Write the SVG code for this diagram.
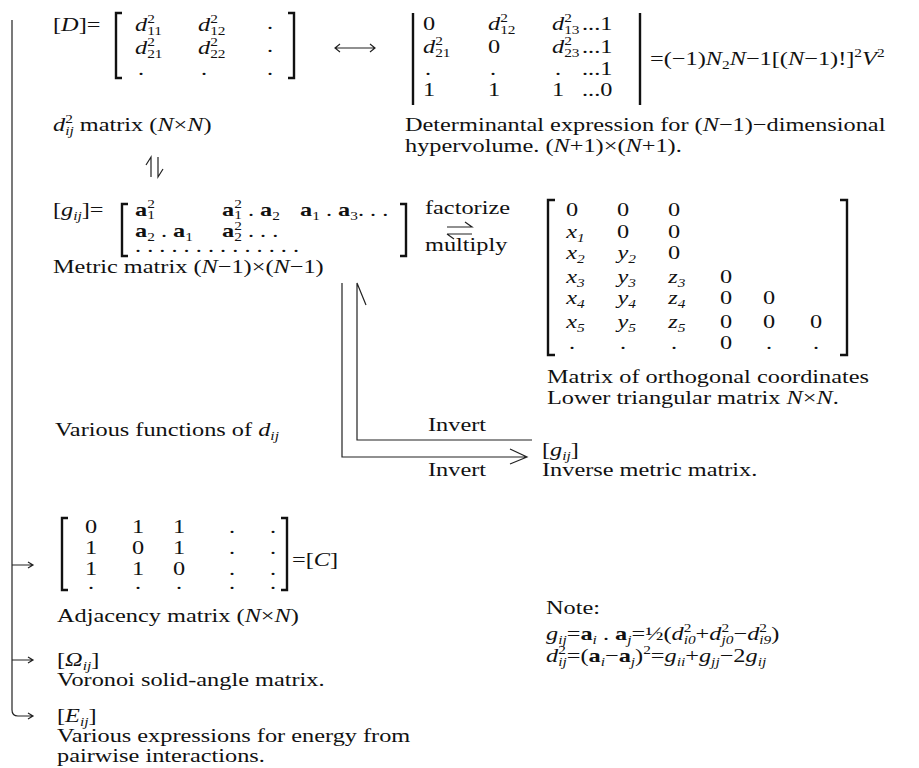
<svg xmlns="http://www.w3.org/2000/svg" width="919" height="768" viewBox="0 0 919 768">
<style>
.t{font-family:"Liberation Serif","Times New Roman",serif;font-size:19px;fill:#111;transform:scaleX(1.28);transform-box:fill-box;transform-origin:0 0}
.i{font-style:italic}
.b{font-weight:bold}
.s{font-size:12px}
.br{fill:none;stroke:#111;stroke-width:2.4}
.ln{fill:none;stroke:#222;stroke-width:1.2}
</style>
<rect width="919" height="768" fill="#fff"/>

<g id="node-D">
<text class="t" x="53" y="31">[<tspan class="i">D</tspan>]=</text>
<path class="br" d="M122,13 H116 V78 H122 M288,13 H294 V78 H288"/>
<text class="t" x="135" y="31"><tspan class="i">d</tspan><tspan class="s" dy="-8">2</tspan><tspan class="s" dx="-6" dy="12">11</tspan></text>
<text class="t" x="198" y="31"><tspan class="i">d</tspan><tspan class="s" dy="-8">2</tspan><tspan class="s" dx="-6" dy="12">12</tspan></text>
<text class="t" x="267" y="29">.</text>
<text class="t" x="135" y="54"><tspan class="i">d</tspan><tspan class="s" dy="-8">2</tspan><tspan class="s" dx="-6" dy="12">21</tspan></text>
<text class="t" x="198" y="54"><tspan class="i">d</tspan><tspan class="s" dy="-8">2</tspan><tspan class="s" dx="-6" dy="12">22</tspan></text>
<text class="t" x="267" y="52">.</text>
<text class="t" x="138" y="75">.</text>
<text class="t" x="201" y="75">.</text>
<text class="t" x="267" y="75">.</text>
<text class="t" x="53" y="131"><tspan class="i">d</tspan><tspan class="s" dy="-8">2</tspan><tspan class="s i" dx="-6" dy="12">ij</tspan><tspan dy="-4"> matrix (</tspan><tspan class="i">N</tspan>×<tspan class="i">N</tspan>)</text>
</g>

<g id="node-det">
<path class="br" d="M413,13 V105 M640,13 V105" stroke-width="2"/>
<text class="t" x="423" y="30">0</text>
<text class="t" x="488" y="30"><tspan class="i">d</tspan><tspan class="s" dy="-8">2</tspan><tspan class="s" dx="-6" dy="12">12</tspan></text>
<text class="t" x="552" y="30"><tspan class="i">d</tspan><tspan class="s" dy="-8">2</tspan><tspan class="s" dx="-6" dy="12">13</tspan></text>
<text class="t" x="582" y="30">...1</text>
<text class="t" x="423" y="53"><tspan class="i">d</tspan><tspan class="s" dy="-8">2</tspan><tspan class="s" dx="-6" dy="12">21</tspan></text>
<text class="t" x="488" y="53">0</text>
<text class="t" x="552" y="53"><tspan class="i">d</tspan><tspan class="s" dy="-8">2</tspan><tspan class="s" dx="-6" dy="12">23</tspan></text>
<text class="t" x="582" y="53">...1</text>
<text class="t" x="425" y="75">.</text>
<text class="t" x="490" y="75">.</text>
<text class="t" x="555" y="75">.</text>
<text class="t" x="582" y="75">...1</text>
<text class="t" x="423" y="96">1</text>
<text class="t" x="488" y="96">1</text>
<text class="t" x="552" y="96">1</text>
<text class="t" x="582" y="96">...0</text>
<text class="t" x="650" y="65">=(−1)<tspan class="i">N</tspan><tspan class="s" dy="4">2</tspan><tspan class="i" dy="-4">N</tspan>−1[(<tspan class="i">N</tspan>−1)!]<tspan class="s" dy="-8">2</tspan><tspan class="i" dy="8">V</tspan><tspan class="s" dy="-8">2</tspan></text>
<text class="t" x="405" y="131">Determinantal expression for (<tspan class="i">N</tspan>−1)−dimensional</text>
<text class="t" x="405" y="152">hypervolume. (<tspan class="i">N</tspan>+1)×(<tspan class="i">N</tspan>+1).</text>
</g>

<g id="node-g">
<text class="t" x="53" y="216">[<tspan class="i">g</tspan><tspan class="s i" dy="4">ij</tspan><tspan dy="-4">]=</tspan></text>
<path class="br" d="M128,204 H122 V256 H128 M400,204 H406 V256 H400"/>
<text class="t" x="135" y="216"><tspan class="b">a</tspan><tspan class="s" dy="-8">2</tspan><tspan class="s" dx="-6" dy="11">1</tspan></text>
<text class="t" x="222" y="216"><tspan class="b">a</tspan><tspan class="s" dy="-8">2</tspan><tspan class="s" dx="-6" dy="11">1</tspan><tspan dy="-3"> . </tspan><tspan class="b">a</tspan><tspan class="s" dy="4">2</tspan></text>
<text class="t" x="300" y="216"><tspan class="b">a</tspan><tspan class="s" dy="4">1</tspan><tspan dy="-4"> . </tspan><tspan class="b">a</tspan><tspan class="s" dy="4">3</tspan><tspan dy="-4">. . .</tspan></text>
<text class="t" x="135" y="237"><tspan class="b">a</tspan><tspan class="s" dy="4">2</tspan><tspan dy="-4"> . </tspan><tspan class="b">a</tspan><tspan class="s" dy="4">1</tspan></text>
<text class="t" x="222" y="237"><tspan class="b">a</tspan><tspan class="s" dy="-7">2</tspan><tspan class="s" dx="-6" dy="11">2</tspan><tspan dy="-4">  . . .</tspan></text>
<text class="t" x="135" y="252">. . . . . . . . . . . . . .</text>
<text class="t" x="53" y="273">Metric matrix (<tspan class="i">N</tspan>−1)×(<tspan class="i">N</tspan>−1)</text>
</g>

<g id="node-fact">
<text class="t" x="425" y="214">factorize</text>
<text class="t" x="425" y="251">multiply</text>
</g>

<g id="node-L">
<path class="br" d="M555,200 H548 V355 H555 M840,200 H847 V355 H840"/>
<g>
<text class="t" x="566" y="216">0</text><text class="t" x="617" y="216">0</text><text class="t" x="668" y="216">0</text>
<text class="t i" x="566" y="238">x<tspan class="s" dy="4">1</tspan></text><text class="t" x="617" y="238">0</text><text class="t" x="668" y="238">0</text>
<text class="t i" x="566" y="259">x<tspan class="s" dy="4">2</tspan></text><text class="t i" x="617" y="259">y<tspan class="s" dy="4">2</tspan></text><text class="t" x="668" y="259">0</text>
<text class="t i" x="566" y="283">x<tspan class="s" dy="4">3</tspan></text><text class="t i" x="617" y="283">y<tspan class="s" dy="4">3</tspan></text><text class="t i" x="668" y="283">z<tspan class="s" dy="4">3</tspan></text><text class="t" x="720" y="283">0</text>
<text class="t i" x="566" y="304">x<tspan class="s" dy="4">4</tspan></text><text class="t i" x="617" y="304">y<tspan class="s" dy="4">4</tspan></text><text class="t i" x="668" y="304">z<tspan class="s" dy="4">4</tspan></text><text class="t" x="720" y="304">0</text><text class="t" x="763" y="304">0</text>
<text class="t i" x="566" y="328">x<tspan class="s" dy="4">5</tspan></text><text class="t i" x="617" y="328">y<tspan class="s" dy="4">5</tspan></text><text class="t i" x="668" y="328">z<tspan class="s" dy="4">5</tspan></text><text class="t" x="720" y="328">0</text><text class="t" x="763" y="328">0</text><text class="t" x="810" y="328">0</text>
<text class="t" x="569" y="349">.</text><text class="t" x="620" y="349">.</text><text class="t" x="671" y="349">.</text><text class="t" x="720" y="349">0</text><text class="t" x="766" y="349">.</text><text class="t" x="813" y="349">.</text>
</g>
<text class="t" x="547" y="383">Matrix of orthogonal coordinates</text>
<text class="t" x="547" y="404">Lower triangular matrix <tspan class="i">N</tspan>×<tspan class="i">N</tspan>.</text>
</g>

<g id="node-various">
<text class="t" x="55" y="436">Various functions of <tspan class="i">d</tspan><tspan class="s i" dy="4">ij</tspan></text>
</g>

<g id="node-inv">
<text class="t" x="542" y="456">[<tspan class="i">g</tspan><tspan class="s i" dy="4">ij</tspan><tspan dy="-4">]</tspan></text>
<text class="t" x="542" y="476">Inverse metric matrix.</text>
</g>

<g id="node-C">
<path class="br" d="M68,518 H62 V590 H68 M281,518 H287 V590 H281"/>
<text class="t" x="85" y="533">0</text><text class="t" x="132" y="533">1</text><text class="t" x="173" y="533">1</text><text class="t" x="229" y="533">.</text><text class="t" x="270" y="533">.</text>
<text class="t" x="85" y="554">1</text><text class="t" x="132" y="554">0</text><text class="t" x="173" y="554">1</text><text class="t" x="229" y="554">.</text><text class="t" x="270" y="554">.</text>
<text class="t" x="85" y="575">1</text><text class="t" x="132" y="575">1</text><text class="t" x="173" y="575">0</text><text class="t" x="229" y="575">.</text><text class="t" x="270" y="575">.</text>
<text class="t" x="88" y="589">.</text><text class="t" x="135" y="589">.</text><text class="t" x="176" y="589">.</text><text class="t" x="229" y="589">.</text><text class="t" x="270" y="589">.</text>
<text class="t" x="292" y="566">=[<tspan class="i">C</tspan>]</text>
<text class="t" x="57" y="622">Adjacency matrix (<tspan class="i">N</tspan>×<tspan class="i">N</tspan>)</text>
</g>

<g id="node-note">
<text class="t" x="546" y="614">Note:</text>
<text class="t" x="546" y="640"><tspan class="i">g</tspan><tspan class="s i" dy="4">ij</tspan><tspan dy="-4">=</tspan><tspan class="b">a</tspan><tspan class="s i" dy="4">i</tspan><tspan dy="-4"> . </tspan><tspan class="b">a</tspan><tspan class="s i" dy="4">j</tspan><tspan dy="-4">=½(</tspan><tspan class="i">d</tspan><tspan class="s" dy="-8">2</tspan><tspan class="s i" dx="-6" dy="12">i0</tspan><tspan dy="-4">+</tspan><tspan class="i">d</tspan><tspan class="s" dy="-8">2</tspan><tspan class="s i" dx="-6" dy="12">j0</tspan><tspan dy="-4">−</tspan><tspan class="i">d</tspan><tspan class="s" dy="-8">2</tspan><tspan class="s i" dx="-6" dy="12">i9</tspan><tspan dy="-4">)</tspan></text>
<text class="t" x="546" y="662"><tspan class="i">d</tspan><tspan class="s" dy="-8">2</tspan><tspan class="s i" dx="-6" dy="12">ij</tspan><tspan dy="-4">=(</tspan><tspan class="b">a</tspan><tspan class="s i" dy="4">i</tspan><tspan dy="-4">−</tspan><tspan class="b">a</tspan><tspan class="s i" dy="4">j</tspan><tspan dy="-4">)</tspan><tspan class="s" dy="-8">2</tspan><tspan dy="8">=</tspan><tspan class="i">g</tspan><tspan class="s i" dy="4">ii</tspan><tspan dy="-4">+</tspan><tspan class="i">g</tspan><tspan class="s i" dy="4">jj</tspan><tspan dy="-4">−2</tspan><tspan class="i">g</tspan><tspan class="s i" dy="4">ij</tspan></text>
</g>

<g id="node-omega">
<text class="t" x="57" y="666">[<tspan class="i">Ω</tspan><tspan class="s i" dy="4">ij</tspan><tspan dy="-4">]</tspan></text>
<text class="t" x="57" y="686">Voronoi solid-angle matrix.</text>
</g>

<g id="node-E">
<text class="t" x="57" y="722">[<tspan class="i">E</tspan><tspan class="s i" dy="4">ij</tspan><tspan dy="-4">]</tspan></text>
<text class="t" x="57" y="742">Various expressions for energy from</text>
<text class="t" x="57" y="762">pairwise interactions.</text>
</g>

<g id="connectors" class="ln">
<path d="M335,48 H375 M340,44 L335,48 L340,52 M370,44 L375,48 L370,52"/>
<path d="M151,177 V157 L146,165 M158,157 V177 L163,169"/>
<path d="M447,227 H472 L465,222 M447,234 H472 M447,234 L454,239"/>
<path d="M532,440 H357 V283 L366,305"/>
<path d="M342,283 V457 H527 M510,449 L527,457 L510,464"/>
<path d="M12,20 V710 Q12,716 18,716 H33 M28,713 L33,716 L28,719"/>
<path d="M12,565 H33 M28,562 L33,565 L28,568"/>
<path d="M12,660 H33 M28,657 L33,660 L28,663"/>
</g>
<g id="labels-invert">
<text class="t" x="428" y="431">Invert</text>
<text class="t" x="428" y="476">Invert</text>
</g>
</svg>
